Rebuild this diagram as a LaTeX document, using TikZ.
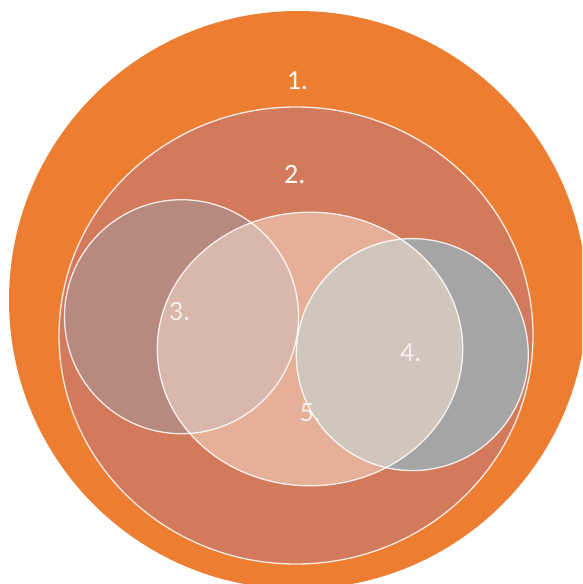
\documentclass[tikz,border=0pt]{standalone}
\usepackage{fontspec}
\setmainfont{Carlito}
\definecolor{orangeA}{HTML}{ED7D31}
\definecolor{ellB}{HTML}{D27A5B}
\definecolor{cirC}{HTML}{B8897F}
\definecolor{cirD}{HTML}{A5A5A5}
\definecolor{cirE}{HTML}{E6B098}
\definecolor{ovCE}{HTML}{D9B7AC}
\definecolor{ovDE}{HTML}{D0C6BD}
\definecolor{txtL}{HTML}{F6EEEA}
\begin{document}
\begin{tikzpicture}[x=1pt,y=-1pt,
  rim/.style={draw=white,line width=1.3pt,draw opacity=0.85},
  lab/.style={font=\fontsize{28}{30}\selectfont,text=white,inner sep=0pt},
  labsoft/.style={lab,text=txtL}]
\useasboundingbox (0,0) rectangle (582,584);
\begin{scope}
\clip (0,0) rectangle (582,584);
\fill[orangeA] (298,300) circle [radius=289];
\end{scope}
% shapes
\path[fill=ellB] (296,335.5) ellipse [x radius=237, y radius=228.5];
\path[fill=cirC] (181.5,316.7) circle [radius=117];
\path[fill=cirD] (412.3,354.6) circle [radius=116];
\path[fill=cirE] (310,349) ellipse [x radius=152.7, y radius=136.8];
\begin{scope}
\clip (310,349) ellipse [x radius=152.7, y radius=136.8];
\fill[ovCE] (181.5,316.7) circle [radius=117];
\fill[ovDE] (412.3,354.6) circle [radius=116];
\end{scope}
% outlines
\draw[rim] (296,335.5) ellipse [x radius=237, y radius=228.5];
\draw[rim] (181.5,316.7) circle [radius=117];
\draw[rim] (412.3,354.6) circle [radius=116];
\draw[rim] (310,349) ellipse [x radius=152.7, y radius=136.8];
% labels
\node[lab] (l1) at (297.4,81) {1.};
\node[lab] (l2) at (294.8,174.7) {2.};
\node[labsoft] (l3) at (179.6,311.5) {3.};
\node[labsoft] (l4) at (410.8,353) {4.};
\node[labsoft] (l5) at (310.4,412.6) {5.};
\end{tikzpicture}
\end{document}
